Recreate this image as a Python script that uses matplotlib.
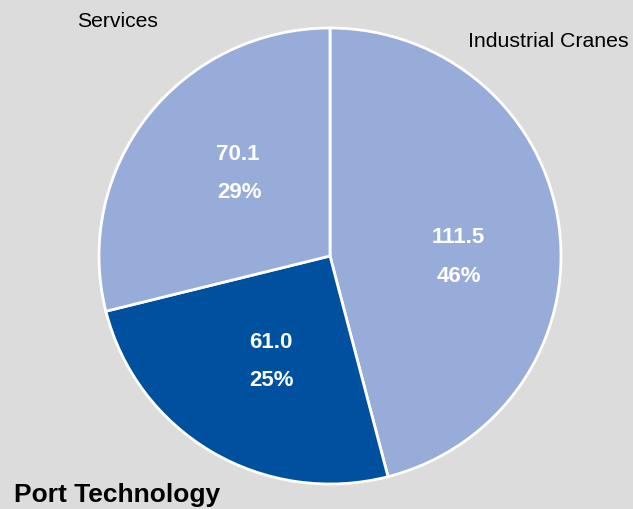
import matplotlib.pyplot as plt

plt.rcParams['font.family'] = ['Liberation Sans', 'DejaVu Sans']

segments = ['Industrial Cranes', 'Port Technology', 'Services']
values = [111.5, 61.0, 70.1]
colors = ['#98acd9', '#0050a0', '#98acd9']

# where each value/percent label sits (pixel coords, y from top)
label_pos = [(458, 257), (271, 361), (238, 174)]

W, H = 633, 509
sy = 228 / 231  # pie is a touch squashed vertically


def py(y):
    # pixel row (from top) -> data y
    return (H - y) / sy


bg = '#dcdcdc'
fig = plt.figure(figsize=(6.33, 5.09), dpi=100, facecolor=bg)
ax = fig.add_axes([0, 0, 1, 1])
ax.set_facecolor(bg)

ax.pie(values, colors=colors, startangle=90, counterclock=False,
       center=(330, py(256)), radius=231, frame=True,
       wedgeprops=dict(edgecolor='white', linewidth=2))
ax.set_aspect('auto')
ax.set_xlim(0, W)
ax.set_ylim(0, H / sy)
ax.axis('off')

total = sum(values)
for v, (x, y) in zip(values, label_pos):
    ax.text(x, py(y - 19), f'{v:.1f}', ha='center', va='center',
            color='white', fontsize=16, fontweight='bold')
    ax.text(x + 1, py(y + 19), f'{v / total * 100:.0f}%', ha='center', va='center',
            color='white', fontsize=16, fontweight='bold')

ax.text(117, py(22), segments[2], ha='center', va='center', fontsize=15.2)
ax.text(548, py(42), segments[0], ha='center', va='center', fontsize=15.3)
ax.text(14, py(495), segments[1], ha='left', va='center', fontsize=19,
        fontweight='bold')

fig.savefig('out.png', dpi=100, facecolor=bg)
